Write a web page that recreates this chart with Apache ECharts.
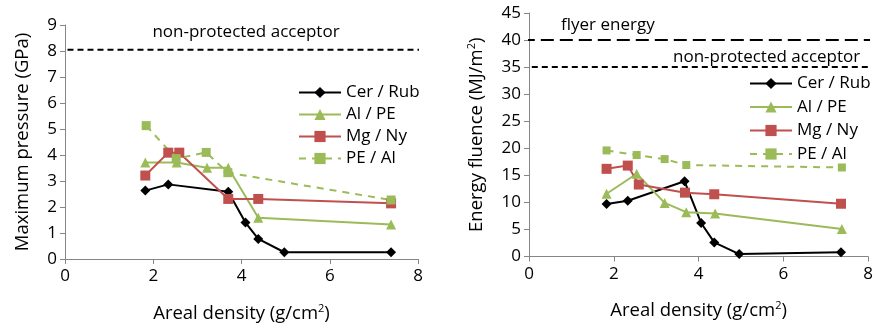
<!DOCTYPE html>
<html>
<head>
<meta charset="utf-8">
<script src="https://cdn.jsdelivr.net/npm/echarts@6/dist/echarts.min.js"></script>
<style>
  html, body { margin: 0; padding: 0; background: #fff; }
  #chart { width: 876px; height: 331px; }
</style>
</head>
<body>
<div id="chart"></div>
<script>
// left panel: maximum pressure (GPa)
const pressCerRub = [[1.82, 2.63], [2.34, 2.87], [3.70, 2.59], [4.09, 1.40], [4.38, 0.77], [4.97, 0.26], [7.39, 0.26]];
const pressAlPE = [[1.82, 3.71], [2.53, 3.71], [3.22, 3.51], [3.70, 3.51], [4.38, 1.59], [7.39, 1.33]];
const pressMgNy = [[1.82, 3.21], [2.34, 4.09], [2.59, 4.09], [3.70, 2.31], [4.38, 2.31], [7.39, 2.14]];
const pressPEAl = [[1.84, 5.13], [2.52, 3.86], [3.20, 4.10], [3.69, 3.32], [7.39, 2.27]];
const pressRef = 8.05;

// right panel: energy fluence (MJ/m2)
const fluCerRub = [[1.83, 9.7], [2.33, 10.3], [3.67, 13.9], [4.06, 6.2], [4.37, 2.6], [4.96, 0.45], [7.36, 0.8]];
const fluAlPE = [[1.83, 11.6], [2.54, 15.3], [3.20, 9.9], [3.71, 8.2], [4.39, 7.95], [7.38, 5.1]];
const fluMgNy = [[1.83, 16.2], [2.33, 16.8], [2.59, 13.3], [3.68, 11.8], [4.37, 11.5], [7.36, 9.75]];
const fluPEAl = [[1.83, 19.6], [2.54, 18.75], [3.20, 18.0], [3.71, 16.9], [7.38, 16.45]];
const fluFlyer = 40;
const fluRef = 35;

const names = ['Cer / Rub', 'Al / PE', 'Mg / Ny', 'PE / Al'];

const FONT = 'Open Sans';
const AXIS = '#868686';
const GREEN = '#9bbb59';
const RED = '#c0504d';

const chart = echarts.init(document.getElementById('chart'));

function xAx(idx) {
  return {
    gridIndex: idx, type: 'value', min: 0, max: 8, interval: 2,
    name: 'Areal density (g/cm{sup|2})', nameLocation: 'middle', nameGap: 44,
    nameTextStyle: {
      color: '#000', fontFamily: FONT, fontSize: 18.5,
      rich: { sup: { fontSize: 11, fontFamily: FONT, color: '#000', padding: [0, 0, 10, 0] } }
    },
    axisLine: { lineStyle: { color: AXIS, width: 1 } },
    axisTick: { show: true, length: 5, lineStyle: { color: AXIS } },
    axisLabel: { color: '#000', fontFamily: FONT, fontSize: 17, margin: 9 },
    splitLine: { show: false }
  };
}

function yAx(idx, max, interval, name, gap) {
  return {
    gridIndex: idx, type: 'value', min: 0, max: max, interval: interval,
    name: name, nameLocation: 'middle', nameGap: gap,
    nameTextStyle: {
      color: '#000', fontFamily: FONT, fontSize: 18.5,
      rich: { sup: { fontSize: 11, fontFamily: FONT, color: '#000', padding: [0, 0, 10, 0] } }
    },
    axisLine: { show: true, lineStyle: { color: AXIS, width: 1 } },
    axisTick: { show: true, length: 5, lineStyle: { color: AXIS } },
    axisLabel: { color: '#000', fontFamily: FONT, fontSize: 17, margin: 8 },
    splitLine: { show: false }
  };
}

function dataSeries(idx, d, name, color, symbol, size, dashed) {
  return {
    name: name, type: 'line', xAxisIndex: idx, yAxisIndex: idx, data: d,
    symbol: symbol, symbolSize: size,
    lineStyle: { color: color, width: 2, type: dashed ? [7, 6] : 'solid' },
    itemStyle: { color: color },
    emphasis: { disabled: true }, animation: false, z: 3
  };
}

function refLine(idx, y, dash) {
  return {
    type: 'line', xAxisIndex: idx, yAxisIndex: idx,
    data: [[-0.17, y], [8.05, y]], clip: false, symbol: 'none',
    lineStyle: { color: '#000', width: 2, type: dash },
    silent: true, animation: false, z: 2
  };
}

function legend(left, top, gap) {
  return {
    orient: 'vertical', left: left, top: top, data: names,
    itemWidth: 42, itemHeight: 14, itemGap: gap,
    textStyle: { color: '#000', fontFamily: FONT, fontSize: 17 },
    selectedMode: false
  };
}

const labelFont = '17px "' + FONT + '"';

chart.setOption({
  animation: false,
  grid: [
    { left: 65, top: 25, width: 353, height: 234 },
    { left: 529, top: 13, width: 342, height: 243.5 }
  ],
  xAxis: [xAx(0), xAx(1)],
  yAxis: [
    yAx(0, 9, 1, 'Maximum pressure (GPa)', 33),
    yAx(1, 45, 5, 'Energy fluence (MJ/m{sup|2})', 42)
  ],
  legend: [legend(293, 79, 5), legend(744, 70, 6.5)],
  graphic: [
    { type: 'text', x: 246, y: 32, style: { text: 'non-protected acceptor', fill: '#000', font: labelFont, textAlign: 'center', textVerticalAlign: 'middle' } },
    { type: 'text', x: 561, y: 25, style: { text: 'flyer energy', fill: '#000', font: labelFont, textAlign: 'left', textVerticalAlign: 'middle' } },
    { type: 'text', x: 673, y: 57, style: { text: 'non-protected acceptor', fill: '#000', font: labelFont, textAlign: 'left', textVerticalAlign: 'middle' } }
  ],
  series: [
    refLine(0, pressRef, [6, 4]),
    dataSeries(0, pressCerRub, names[0], '#000', 'diamond', 10, false),
    dataSeries(0, pressAlPE, names[1], GREEN, 'triangle', 10, false),
    dataSeries(0, pressMgNy, names[2], RED, 'rect', 10, false),
    dataSeries(0, pressPEAl, names[3], GREEN, 'rect', 9, true),
    refLine(1, fluFlyer, [13, 6]),
    refLine(1, fluRef, [6, 4]),
    dataSeries(1, fluCerRub, names[0], '#000', 'diamond', 10, false),
    dataSeries(1, fluAlPE, names[1], GREEN, 'triangle', 10, false),
    dataSeries(1, fluMgNy, names[2], RED, 'rect', 10, false),
    dataSeries(1, fluPEAl, names[3], GREEN, 'rect', 8, true)
  ]
});
</script>
</body>
</html>
